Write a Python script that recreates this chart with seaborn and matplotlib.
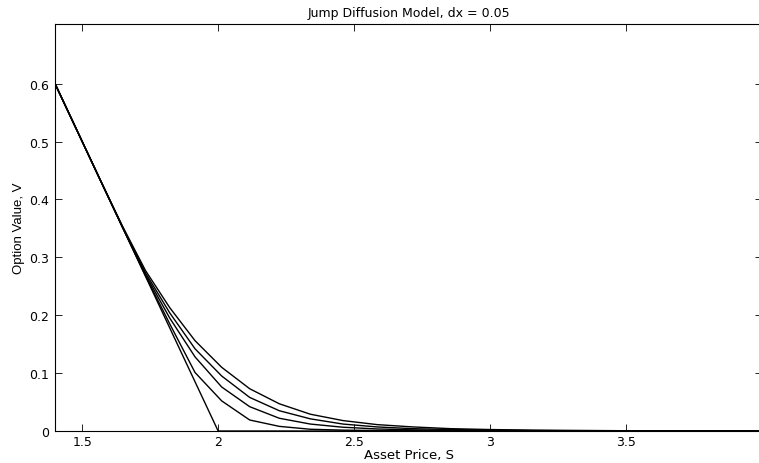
import numpy as np
import pandas as pd
import matplotlib
matplotlib.use("Agg")
import matplotlib.pyplot as plt
from matplotlib import font_manager
import seaborn as sns

# ---- data ----
asset_price = [1.349, 1.418, 1.491, 1.568, 1.648, 1.733, 1.822, 1.915, 2.013,
               2.116, 2.225, 2.339, 2.459, 2.585, 2.717, 2.857, 3.003, 3.157,
               3.319, 3.489, 3.668, 3.856, 4.053]
payoff_S = [1.349, 2.0, 4.053]
payoff_V = [0.651, 0.0, 0.0]
curve_a = [0.651, 0.582, 0.509, 0.432, 0.352, 0.268, 0.185, 0.101, 0.052,
           0.019, 0.008, 0.003, 0.0015, 0.0008, 0.0004, 0.0002, 0.0001, 0.0,
           0.0, 0.0, 0.0, 0.0, 0.0]
curve_b = [0.651, 0.582, 0.509, 0.432, 0.352, 0.270, 0.195, 0.128, 0.076,
           0.042, 0.022, 0.012, 0.0065, 0.0035, 0.002, 0.001, 0.0005, 0.0002,
           0.0001, 0.0, 0.0, 0.0, 0.0]
curve_c = [0.651, 0.582, 0.509, 0.432, 0.353, 0.273, 0.204, 0.142, 0.095,
           0.058, 0.035, 0.021, 0.012, 0.007, 0.004, 0.0025, 0.0015, 0.0008,
           0.0004, 0.0002, 0.0001, 0.0, 0.0]
curve_d = [0.651, 0.582, 0.509, 0.432, 0.354, 0.277, 0.213, 0.156, 0.110,
           0.073, 0.047, 0.029, 0.018, 0.011, 0.007, 0.004, 0.0025, 0.0015,
           0.001, 0.0005, 0.0003, 0.0001, 0.0]
x_ticks = [1.5, 2, 2.5, 3, 3.5, 4]
x_tick_labels = ["1.5", "2", "2.5", "3", "3.5", "4"]
y_ticks = [0, 0.1, 0.2, 0.3, 0.4, 0.5, 0.6]
y_tick_labels = ["0", "0.1", "0.2", "0.3", "0.4", "0.5", "0.6"]

frames = [pd.DataFrame({"S": payoff_S, "V": payoff_V, "series": "payoff"})]
for name, vals in [("a", curve_a), ("b", curve_b), ("c", curve_c), ("d", curve_d)]:
    frames.append(pd.DataFrame({"S": asset_price, "V": vals, "series": name}))
df = pd.concat(frames, ignore_index=True)

sns.set_style("ticks")
available = {f.name for f in font_manager.fontManager.ttflist}
side_font = "Liberation Sans" if "Liberation Sans" in available else "DejaVu Sans"
plt.rcParams["font.family"] = ["DejaVu Sans"]
plt.rcParams["text.color"] = "black"
plt.rcParams["axes.labelcolor"] = "black"
plt.rcParams["xtick.color"] = "black"
plt.rcParams["ytick.color"] = "black"

fig = plt.figure(figsize=(7.59, 4.64), dpi=100)
ax = fig.add_axes([55 / 759, (464 - 432) / 464, 707 / 759, 407 / 464])

sns.lineplot(data=df, x="S", y="V", hue="series", estimator=None,
             sort=False, palette=["black"] * 5, legend=False, linewidth=1.0, ax=ax)

ax.set_xlim(1.4, 4.0)
ax.set_ylim(0, 0.703)
ax.set_xticks(x_ticks)
ax.set_xticklabels(x_tick_labels)
ax.set_yticks(y_ticks)
ax.set_yticklabels(y_tick_labels)
ax.tick_params(direction="in", length=5, width=0.6, top=True, right=True,
               labelsize=9, color="black", labelcolor="black")
ax.tick_params(axis="x", pad=3)
ax.tick_params(axis="y", pad=4)
for sp in ax.spines.values():
    sp.set_visible(True)
    sp.set_linewidth(0.8)
    sp.set_color("black")

ax.set_xlabel("Asset Price, S", fontsize=9.5, labelpad=0, color="black")
ax.set_ylabel("Option Value, V", fontsize=9.5, labelpad=3, color="black",
              family=[side_font, "DejaVu Sans"])
ax.set_title("Jump Diffusion Model, dx = 0.05", fontsize=9, pad=6, color="black")

fig.savefig("out.png", dpi=100, facecolor="white")
